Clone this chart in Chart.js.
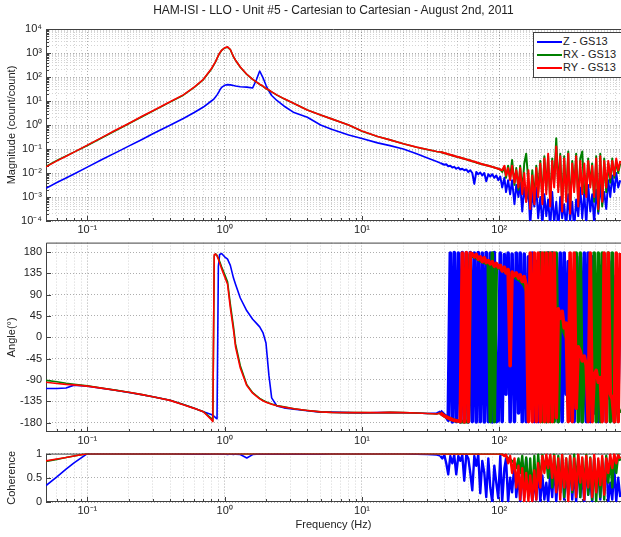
<!DOCTYPE html>
<html>
<head>
<meta charset="utf-8">
<title>HAM-ISI - LLO - Unit #5</title>
<script src="https://cdn.jsdelivr.net/npm/chart.js@4.4.1/dist/chart.umd.min.js"></script>
<style>
  body { margin: 0; background: #fff; }
  #wrap { position: relative; width: 621px; height: 537px; overflow: hidden; font-family: "Liberation Sans", Arial, sans-serif; color: #222; }
  #wrap canvas { position: absolute; left: 0; }
  #title { position: absolute; top: 3px; left: 46px; width: 575px; text-align: center; font-size: 12px; }
  #legend { position: absolute; left: 533px; top: 32px; width: 92px; height: 46px; box-sizing: border-box; padding-top: 2px; background: #fff; border: 1px solid #404040; font-size: 11px; }
  #legend .row { height: 13px; line-height: 13px; display: flex; align-items: center; white-space: nowrap; }
  #legend .ln { display: inline-block; width: 25px; height: 2px; margin: 0 1px 0 3px; }
</style>
</head>
<body>
<div id="wrap">
  <canvas id="magChart" width="621" height="238" style="top:0"></canvas>
  <canvas id="phaseChart" width="621" height="217" style="top:232px"></canvas>
  <canvas id="cohChart" width="621" height="94" style="top:443px"></canvas>
  <div id="title">HAM-ISI - LLO - Unit #5 - Cartesian to Cartesian - August 2nd, 2011</div>
  <div id="legend">
    <div class="row"><span class="ln" style="background:#0000ff"></span>Z - GS13</div>
    <div class="row"><span class="ln" style="background:#008000"></span>RX - GS13</div>
    <div class="row"><span class="ln" style="background:#ff0000"></span>RY - GS13</div>
  </div>
</div>
<script>
// HAM-ISI LLO Unit #5 - transfer functions Z / RX / RY to GS13

const seriesNames = ['Z - GS13', 'RX - GS13', 'RY - GS13'];
const seriesColors = ['#0000ff', '#008000', '#ff0000'];

// frequency (Hz)
const freq = [
  0.05, 0.06, 0.07, 0.08, 0.1, 0.13, 0.16, 0.2, 0.25, 0.3,
  0.4, 0.5, 0.6, 0.7, 0.8, 0.82, 0.84, 0.86, 0.88, 0.9,
  0.92, 0.95, 1.0, 1.05, 1.1, 1.16, 1.2, 1.3, 1.45, 1.6,
  1.7, 1.8, 1.9, 2.0, 2.1, 2.2, 2.4, 2.7, 3.2, 4,
  5, 6, 8, 10, 13, 16, 20, 25, 30, 35,
  // noisy part
  37.2, 38.5, 39.8, 41.1, 42.5, 44.0, 45.5, 47.0, 48.6, 50.3,
  52.0, 53.8, 55.6, 57.5, 59.5, 61.5, 63.6, 65.8, 68.0, 70.3,
  72.7, 75.2, 77.8, 80.4, 83.2, 86.0, 88.9, 92.0, 95.1, 98.3,
  101.7, 105, 109, 112, 116, 120, 124, 129, 133, 138,
  142, 147, 152, 157, 163, 168, 174, 180, 186, 192,
  199, 206, 213, 220, 227, 235, 243, 251, 260, 269,
  278, 287, 297, 307, 318, 328, 340, 351, 363, 376,
  389, 402, 416, 430, 444, 460, 475, 491, 508, 526,
  544, 562, 581, 601, 622, 643, 665, 688, 711, 735,
  760
];
const noiseFrom = 36; // Hz, above this the traces get noisy

// magnitude (count/count)
const magZ = [
  2.3e-3, 4.0e-3, 6.2e-3, 9.1e-3, 1.76e-2, 3.8e-2, 6.9e-2, 0.132, 0.25, 0.43,
  0.98, 1.86, 3.3, 5.6, 10, 11, 12.6, 15, 18, 22,
  28, 37, 45, 48, 47, 44, 42, 39, 38, 35,
  75, 178, 95, 45, 26, 17, 10.5, 6.2, 3.3, 2.1,
  1.0, 0.66, 0.38, 0.275, 0.18, 0.138, 0.1, 0.063, 0.042, 0.030,
  2.6e-2, 2.4e-2, 2.2e-2, 2.3e-2, 1.9e-2, 2.0e-2, 1.7e-2, 1.8e-2, 1.5e-2, 1.7e-2,
  1.4e-2, 1.5e-2, 1.3e-2, 1.4e-2, 1.1e-2, 1.3e-2, 1.0e-2, 3.5e-3, 1.1e-2, 8.9e-3,
  1.05e-2, 7.9e-3, 1.0e-2, 4.5e-3, 8.9e-3, 7.1e-3, 8.9e-3, 6.3e-3, 7.9e-3, 5.0e-3,
  7.1e-3, 2.5e-3, 6.3e-3, 1.6e-3, 5.0e-3, 1.3e-3, 5.0e-3, 5.0e-4, 3.2e-3, 1.0e-3,
  4.0e-3, 2.5e-4, 2.5e-3, 6.3e-4, 2.0e-3, 6.3e-5, 1.6e-3, 4.0e-4, 2.5e-3, 1.3e-4,
  1.0e-3, 6.3e-5, 1.3e-3, 1.6e-4, 7.9e-4, 5.0e-5, 1.6e-3, 7.9e-5, 6.3e-4, 4.0e-5,
  1.0e-3, 1.3e-4, 5.0e-4, 5.0e-5, 1.3e-3, 1.0e-4, 6.3e-4, 4.0e-5, 7.9e-4, 1.6e-4,
  2.5e-3, 1.3e-4, 1.6e-3, 6.3e-5, 3.2e-3, 2.5e-4, 1.3e-3, 7.9e-5, 2.0e-3, 2.0e-4,
  3.2e-3, 5.0e-4, 1.6e-3, 3.2e-4, 5.0e-3, 1.0e-3, 7.9e-3, 1.6e-3, 1.0e-2, 2.5e-3,
  5.0e-3
];
const magRX = [
  1.9e-2, 3.3e-2, 5.1e-2, 7.4e-2, 0.14, 0.31, 0.58, 1.12, 2.2, 3.8,
  9.0, 17.5, 37, 78, 210, 270, 345, 440, 590, 780,
  980, 1280, 1620, 1750, 1380, 690, 500, 255, 128, 79,
  62, 49, 41, 33, 28, 24, 17.6, 12.4, 7.8, 4.2,
  2.6, 1.8, 1.0, 0.55, 0.33, 0.24, 0.165, 0.118, 0.094, 0.078,
  0.075, 0.071, 0.067, 0.064, 0.060, 0.057, 0.054, 0.051, 0.048, 0.046,
  0.043, 0.041, 0.039, 0.037, 0.035, 0.033, 0.031, 0.029, 0.027, 0.026,
  0.024, 0.023, 0.022, 0.021, 0.020, 0.019, 0.018, 0.017, 0.016, 0.015,
  0.014, 1.1e-2, 1.8e-2, 6.3e-3, 2.0e-2, 6.3e-3, 3.5e-2, 3.2e-3, 1.6e-2, 2.0e-3,
  2.0e-2, 1.6e-3, 2.5e-2, 6.3e-2, 4.0e-3, 5.0e-4, 1.3e-2, 7.9e-4, 2.0e-2, 1.6e-3,
  3.2e-2, 7.9e-4, 5.0e-2, 2.0e-3, 5.0e-2, 6.3e-4, 4.0e-2, 4.0e-3, 0.28, 2.5e-3,
  6.3e-2, 5.0e-4, 5.0e-2, 1.0e-3, 7.9e-2, 3.2e-4, 3.2e-2, 2.5e-3, 6.3e-2, 6.3e-4,
  4.0e-2, 7.9e-2, 1.6e-3, 1.3e-3, 4.0e-2, 3.2e-3, 2.5e-2, 6.3e-4, 5.0e-2, 2.5e-4,
  6.3e-2, 4.0e-4, 4.0e-2, 1.6e-3, 2.5e-2, 4.0e-3, 4.0e-2, 6.3e-3, 3.2e-2, 1.0e-2,
  2.5e-2
];
const magRY = [
  1.8e-2, 3.2e-2, 5.0e-2, 7.4e-2, 0.145, 0.32, 0.6, 1.16, 2.3, 3.9,
  9.3, 18, 38, 80, 220, 280, 355, 450, 600, 800,
  1000, 1300, 1650, 1800, 1400, 700, 500, 260, 130, 80,
  63, 50, 42, 33, 29, 24, 18, 12.6, 7.9, 4.2,
  2.6, 1.8, 1.0, 0.56, 0.33, 0.24, 0.166, 0.12, 0.095, 0.079,
  0.076, 0.072, 0.068, 0.065, 0.060, 0.058, 0.055, 0.051, 0.049, 0.046,
  0.044, 0.041, 0.039, 0.037, 0.035, 0.033, 0.031, 0.030, 0.028, 0.026,
  0.025, 0.023, 0.022, 0.021, 0.020, 0.019, 0.018, 0.017, 0.016, 0.015,
  0.014, 1.3e-2, 2.0e-2, 7.9e-3, 1.6e-2, 5.0e-3, 2.0e-2, 4.0e-3, 1.3e-2, 2.5e-3,
  1.6e-2, 1.3e-3, 1.0e-2, 6.3e-4, 1.3e-2, 3.2e-4, 7.9e-3, 5.0e-4, 1.6e-2, 1.0e-3,
  2.5e-2, 5.0e-4, 4.0e-2, 1.3e-3, 6.3e-2, 4.0e-4, 3.2e-2, 2.5e-3, 0.126, 1.6e-3,
  5.0e-2, 2.5e-4, 4.0e-2, 6.3e-4, 6.3e-2, 2.0e-4, 2.5e-2, 1.6e-3, 5.0e-2, 4.0e-4,
  3.2e-2, 1.3e-3, 2.5e-2, 1.0e-3, 3.2e-2, 2.5e-3, 2.0e-2, 1.0e-3, 4.0e-2, 3.2e-4,
  5.0e-2, 6.3e-4, 3.2e-2, 2.5e-3, 3.2e-2, 6.3e-3, 3.2e-2, 7.9e-3, 4.0e-2, 1.3e-2,
  3.2e-2
];

// phase (degrees)
const phaseZ = [
  -108, -108, -107, -101, -103.5, -108, -112, -116.5, -121.5, -125.5,
  -133, -142, -150, -157, -163, -165, -167, -170, -172, 150,
  175, 177, 170, 165, 152, 125, 112, 83, 56, 38,
  30, 22, 10, -12, -80, -128, -145, -149, -152, -155,
  -158, -158, -159, -160, -159, -159, -159.5, -160, -161, -160,
  -156, -160, -164, -168, -175, 178, -179, 179, -178, 178,
  -179, 179, -178, 178, -179, 179, -178, 178, -179, 179,
  -178, 178, -179, 179, -178, 178, -179, 179, -178, -176,
  178, -178, 175, -120, 178, -178, 176, -178, 178, -160,
  178, -178, 176, -178, 170, -150, 178, -178, 160, -178,
  178, -175, 150, -178, 178, -170, 178, -150, 170, -178,
  178, -178, 178, -120, 160, -175, 100, -178, 175, -100,
  170, -178, 178, -178, 178, -178, 170, -160, 120, -178,
  150, -120, 100, -178, 140, -130, 160, -178, 130, -100,
  120
];
const phaseRX = [
  -91, -94, -97, -99, -102.5, -107.5, -111.5, -116, -121, -125.5,
  -133, -142, -150, -157, -171, -177, 172, 176, 173, 167,
  160, 149, 133, 117, 70, 22, -14, -60, -100, -117,
  -123, -129, -133, -136, -139, -141, -144, -147, -151, -154.5,
  -157.5, -158.5, -159, -159, -159.5, -158.5, -159, -160, -161, -162,
  -160, -163, -166, -168, -170, -172, -174, -175, -176, -177,
  -178, -178, -178, -178, -178, 175, 172, 170, 168, 165,
  162, 160, 158, 156, 154, -178, 178, -178, 150, 148,
  145, 142, 140, 138, 135, 132, 130, 128, 125, 122,
  120, 115, 110, 100, 80, 60, 40, 20, 0, -30,
  178, -178, 178, -178, 178, -178, 178, -178, 178, -178,
  50, 30, 10, 0, -10, -20, -30, -40, 178, -178,
  178, -178, -50, -60, -70, -80, -90, 178, -178, 178,
  -178, 178, -120, -130, 178, -178, 178, -178, -140, -150,
  -160
];
const phaseRY = [
  -95, -97.5, -99.5, -100.5, -103.2, -107.9, -111.8, -116, -121.1, -125.5,
  -133.2, -142.3, -150.1, -157.2, -174, -178, 175, 176, 172, 165,
  157, 145, 128, 112, 62, 15, -20, -65, -102, -118,
  -124, -130, -134, -137, -139.5, -141.5, -144.5, -147.5, -151, -154.5,
  -157.5, -158.5, -159, -159, -159, -158.5, -159, -160, -161, -162,
  -160, -163, -166, -168, -170, -172, -174, -175, -176, -177,
  -178, 178, -179, 179, -178, 178, 176, 170, 175, 165,
  170, 160, 168, 158, 162, 155, 160, 150, 156, 148,
  152, 140, 148, 136, 143, -60, 138, 130, 136, 125,
  132, 118, 128, 110, -178, 178, -178, 178, -178, 178,
  -178, 178, -178, 178, -178, 178, -178, 178, -170, 60,
  40, 55, 20, 30, -178, 178, -178, 178, -150, -20,
  -30, -50, -40, -60, -178, 178, -178, -80, -70, -95,
  -85, -178, 178, -178, 178, -120, -130, -178, 178, -178,
  178
];

// coherence
const cohZ = [
  0.34, 0.52, 0.68, 0.81, 1, 1, 1, 1, 1, 1,
  1, 0.995, 0.99, 0.995, 0.99, 0.995, 0.99, 0.995, 0.99, 0.995,
  0.99, 0.995, 0.99, 0.98, 0.99, 0.98, 0.99, 0.98, 0.91, 0.98,
  0.99, 0.995, 0.99, 0.99, 0.995, 0.99, 0.995, 0.99, 0.995, 0.99,
  0.99, 1, 1, 1, 1, 1, 1, 0.99, 0.98, 0.97,
  0.95, 0.9, 0.97, 0.8, 0.57, 0.95, 0.8, 0.97, 0.57, 0.95,
  0.85, 0.97, 0.44, 0.98, 0.9, 0.6, 0.24, 0.95, 0.75, 0.98,
  0.18, 0.85, 0.6, 0.1, 0.9, 0.3, 0.0, 0.75, 0.4, 0.08,
  0.95, 0.0, 0.7, 0.9, 0.0, 0.5, 0.2, 0.8, 0.1, 0.6,
  0.0, 0.7, 0.1, 0.9, 0.3, 0.6, 0.0, 0.5, 0.05, 0.7,
  0.02, 0.55, 0.05, 0.4, 0.0, 0.6, 0.1, 0.8, 0.0, 0.7,
  0.2, 0.9, 0.05, 0.6, 0.15, 0.85, 0.05, 0.7, 0.0, 0.9,
  0.1, 0.6, 0.0, 0.8, 0.15, 0.5, 0.0, 0.9, 0.2, 0.7,
  0.05, 0.8, 0.2, 0.9, 0.0, 0.4, 0.05, 0.7, 0.02, 0.5,
  0.1
];
const cohRX = [
  0.84, 0.88, 0.92, 0.95, 1, 1, 1, 1, 1, 1,
  1, 1, 1, 1, 1, 1, 1, 1, 1, 1,
  1, 1, 1, 1, 1, 1, 1, 1, 1, 1,
  1, 1, 1, 1, 1, 1, 1, 1, 1, 1,
  1, 1, 1, 1, 1, 1, 1, 1, 1, 1,
  1, 1, 1, 1, 1, 1, 1, 1, 1, 1,
  1, 1, 1, 1, 1, 1, 1, 1, 1, 1,
  1, 1, 1, 1, 1, 1, 1, 1, 1, 1,
  1, 0.98, 0.97, 0.95, 0.9, 0.88, 0.85, 0.8, 0.7, 0.9,
  0.6, 0.95, 0.4, 0.92, 0.2, 0.9, 0.1, 0.95, 0.2, 0.98,
  0.4, 0.97, 0.7, 0.9, 0.5, 0.95, 0.3, 0.98, 0.4, 0.95,
  0.2, 0.97, 0.1, 0.9, 0.3, 0.95, 0.2, 0.98, 0.4, 0.95,
  0.1, 0.9, 0.3, 0.97, 0.15, 0.92, 0.05, 0.9, 0.0, 0.85,
  0.1, 0.9, 0.05, 0.95, 0.4, 0.9, 0.3, 0.95, 0.6, 0.98,
  0.85
];
const cohRY = [
  0.85, 0.89, 0.92, 0.95, 1, 1, 1, 1, 1, 1,
  1, 1, 1, 1, 1, 1, 1, 1, 1, 1,
  1, 1, 1, 1, 1, 1, 1, 1, 1, 1,
  1, 1, 1, 1, 1, 1, 1, 1, 1, 1,
  1, 1, 1, 1, 1, 1, 1, 1, 1, 1,
  1, 1, 1, 1, 1, 1, 1, 1, 1, 1,
  1, 1, 1, 1, 1, 1, 1, 1, 1, 1,
  1, 1, 1, 1, 1, 1, 1, 1, 1, 1,
  1, 0.99, 0.95, 0.98, 0.8, 0.95, 0.6, 0.9, 0.3, 0.75,
  0.05, 0.7, 0.0, 0.6, 0.02, 0.55, 0.0, 0.65, 0.05, 0.8,
  0.3, 0.95, 0.6, 0.98, 0.7, 0.97, 0.5, 0.95, 0.2, 0.9,
  0.05, 0.97, 0.3, 0.9, 0.0, 0.95, 0.25, 0.9, 0.1, 0.98,
  0.4, 0.92, 0.05, 0.95, 0.3, 0.9, 0.1, 0.97, 0.2, 0.9,
  0.35, 0.95, 0.15, 0.9, 0.6, 0.98, 0.7, 0.99, 0.8, 0.97,
  0.9
];

// axis ticks
const freqRange = [0.05, 770];
const magRange = [1e-4, 1e4];
const angleTicks = [-180, -135, -90, -45, 0, 45, 90, 135, 180];
const cohTicks = [0, 0.5, 1];

Chart.defaults.font.family = '"Liberation Sans", Arial, sans-serif';
Chart.defaults.font.size = 11;
Chart.defaults.color = '#222';

const SUP = { '-': '\u207B', '0': '\u2070', '1': '\u00B9', '2': '\u00B2', '3': '\u00B3', '4': '\u2074', '5': '\u2075', '6': '\u2076', '7': '\u2077', '8': '\u2078', '9': '\u2079' };
const pow10Label = v => '10' + String(Math.round(Math.log10(v))).split('').map(c => SUP[c]).join('');

// decade ticks 1..9 x 10^n inside [min, max]
function logTicks(min, max) {
  const out = [];
  for (let e = Math.floor(Math.log10(min)); e <= Math.ceil(Math.log10(max)); e++) {
    for (let m = 1; m <= 9; m++) {
      const v = m * Math.pow(10, e);
      if (v >= min * 0.999 && v <= max * 1.001) out.push({ value: v, major: m === 1 });
    }
  }
  return out;
}

const gridColor = ctx => (ctx.tick && ctx.tick.major === false) ? 'rgba(0,0,0,0.17)' : 'rgba(0,0,0,0.32)';

const axesBox = {
  id: 'axesBox',
  beforeDatasetsDraw(chart) {
    const { ctx, chartArea: a, scales } = chart;
    ctx.save();
    ctx.strokeStyle = '#404040';
    ctx.lineWidth = 1;
    ctx.beginPath();
    ctx.moveTo(a.right, a.top + 0.5);
    ctx.lineTo(a.left + 0.5, a.top + 0.5);
    ctx.lineTo(a.left + 0.5, a.bottom - 0.5);
    ctx.lineTo(a.right, a.bottom - 0.5);
    scales.x.ticks.forEach(t => {
      const px = Math.round(scales.x.getPixelForValue(t.value)) + 0.5;
      ctx.moveTo(px, a.bottom);
      ctx.lineTo(px, a.bottom - (t.major ? 5 : 3));
    });
    scales.y.ticks.forEach(t => {
      const py = Math.round(scales.y.getPixelForValue(t.value)) + 0.5;
      ctx.moveTo(a.left, py);
      ctx.lineTo(a.left + (t.major === false ? 3 : 5), py);
    });
    ctx.stroke();
    ctx.restore();
  }
};

function makeDatasets(z, rx, ry, noisyWidth) {
  return [z, rx, ry].map((ys, k) => ({
    label: seriesNames[k],
    data: freq.map((f, i) => ({ x: f, y: ys[i] })),
    borderColor: seriesColors[k],
    borderWidth: 1.6,
    borderJoinStyle: 'round',
    pointRadius: 0,
    tension: 0,
    order: 3 - k,
    segment: {
      borderWidth: ctx => ctx.p0.parsed.x > noiseFrom ? noisyWidth : 1.6
    }
  }));
}

function makePanel(id, opts) {
  return new Chart(document.getElementById(id), {
    type: 'line',
    data: { datasets: opts.datasets },
    options: {
      responsive: false,
      animation: false,
      events: [],
      layout: { padding: { top: opts.padTop, left: 0, right: 0, bottom: 0 } },
      plugins: { legend: { display: false }, tooltip: { enabled: false } },
      scales: {
        x: {
          type: 'logarithmic',
          min: freqRange[0],
          max: freqRange[1],
          afterBuildTicks: ax => { ax.ticks = logTicks(freqRange[0], freqRange[1]); },
          afterFit: ax => { ax.height = opts.xHeight; },
          ticks: {
            autoSkip: false, maxRotation: 0, padding: 2,
            callback: (v, i, t) => t[i].major ? pow10Label(v) : ''
          },
          grid: { color: gridColor, drawTicks: false },
          border: { display: false, dash: [1, 2] },
          title: opts.xTitle
            ? { display: true, text: opts.xTitle, padding: { top: 0, bottom: 5 } }
            : { display: false }
        },
        y: Object.assign({
          afterFit: ax => { ax.width = 46; },
          grid: { color: gridColor, drawTicks: false },
          border: { display: false, dash: [1, 2] },
          title: { display: true, text: opts.yTitle, padding: { top: 5, bottom: 0 } }
        }, opts.y)
      }
    },
    plugins: [axesBox]
  });
}

makePanel('magChart', {
  datasets: makeDatasets(magZ, magRX, magRY, 2),
  padTop: 29, xHeight: 17,
  yTitle: 'Magnitude (count/count)',
  y: {
    type: 'logarithmic', min: magRange[0], max: magRange[1],
    afterBuildTicks: ax => { ax.ticks = logTicks(magRange[0], magRange[1]); },
    ticks: { autoSkip: false, padding: 4, callback: (v, i, t) => t[i].major ? pow10Label(v) : '' }
  }
});

makePanel('phaseChart', {
  datasets: makeDatasets(phaseZ, phaseRX, phaseRY, 3.6),
  padTop: 8, xHeight: 17,
  yTitle: 'Angle(\u00B0)',
  y: {
    type: 'linear', min: -200, max: 200,
    afterBuildTicks: ax => { ax.ticks = angleTicks.map(v => ({ value: v })); },
    ticks: { autoSkip: false, padding: 4, callback: v => String(v) }
  }
});

makePanel('cohChart', {
  datasets: makeDatasets(cohZ, cohRX, cohRY, 2.4),
  padTop: 8, xHeight: 35,
  xTitle: 'Frequency (Hz)',
  yTitle: 'Coherence',
  y: {
    type: 'linear', min: 0, max: 1,
    afterBuildTicks: ax => { ax.ticks = cohTicks.map(v => ({ value: v })); },
    ticks: { autoSkip: false, padding: 4, callback: v => String(v) }
  }
});
</script>
</body>
</html>
